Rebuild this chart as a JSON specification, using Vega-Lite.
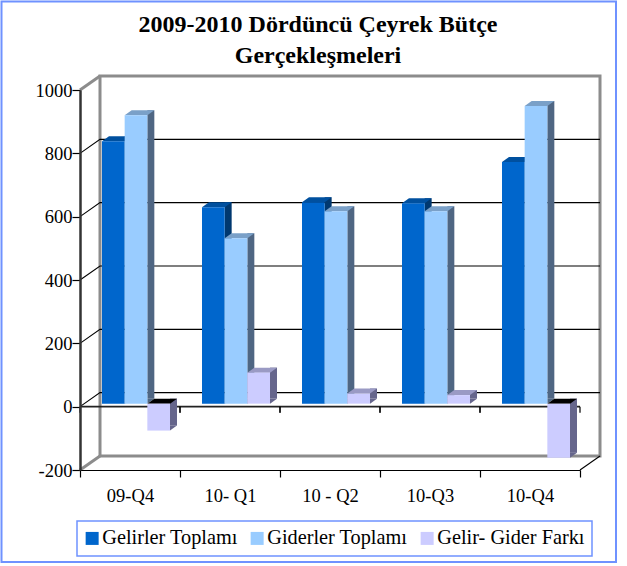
{
"$schema":"https://vega.github.io/schema/vega-lite/v6.json",
"width":500,"height":380,"autosize":"none",
"padding":{"left":80,"top":90,"right":47,"bottom":96},
"background":"white",
"title":{"text":["2009-2010 Dördüncü Çeyrek Bütçe","Gerçekleşmeleri"],"font":"Liberation Serif","fontSize":24,"fontWeight":"bold","color":"black","anchor":"middle","dx":-12,"dy":95,"lineHeight":31,"offset":25},
"config":{"view":{"stroke":null},"font":"Liberation Serif","legend":{"strokeWidth":1.5}},
"layer":[
{
"encoding":{"y":{"field":"g","type":"quantitative","scale":{"domain":[-200,1000],"nice":false,"zero":false},
 "axis":{"title":null,"zindex":1,"values":[-200,0,200,400,600,800,1000],"labelExpr":"''+datum.value","labelFont":"Liberation Serif","labelFontSize":18.5,"labelColor":"black","labelPadding":0,"tickSize":8,"tickColor":"black","tickWidth":1.2,"domainColor":"#333333","domainWidth":2.5,"grid":false}}},
"layer":[
{"data":{"values":[{"g":1000}]},"mark":{"type":"point","shape":"M-328.5,-88.5H286V472H-328.5Z","size":4,"filled":true,"fill":"white","stroke":"#6f92ff","strokeWidth":2,"opacity":1}},
{"data":{"values":[{"g":1000}]},"mark":{"type":"point","shape":"M-230,-14H270V366H-230Z","size":4,"filled":false,"stroke":"#8c8c8c","strokeWidth":3,"opacity":1}},
{"data":{"values":[{"g":0},{"g":200},{"g":400},{"g":600},{"g":800}]},"mark":{"type":"point","shape":"M-250,0L-230,-14H270","size":4,"filled":false,"stroke":"black","strokeWidth":1.1,"opacity":1}},
{"data":{"values":[{"g":-200},{"g":1000}]},"mark":{"type":"point","shape":"M-250,0L-230,-14","size":4,"filled":false,"stroke":"#8c8c8c","strokeWidth":3,"opacity":1}},
{"data":{"values":[{"g":-200}]},"mark":{"type":"point","shape":"M250,0L270,-14","size":4,"filled":false,"stroke":"black","strokeWidth":1.1,"opacity":1}},
{"data":{"values":[{"g":0}]},"mark":{"type":"rule","color":"#222222","strokeWidth":1.6}}
]},
{
"data":{"values":[
{"q":"09-Q4","s":"Gelirler Toplamı","v":829},{"q":"09-Q4","s":"Giderler Toplamı","v":911},{"q":"09-Q4","s":"Gelir- Gider Farkı","v":-85},
{"q":"10- Q1","s":"Gelirler Toplamı","v":620},{"q":"10- Q1","s":"Giderler Toplamı","v":522},{"q":"10- Q1","s":"Gelir- Gider Farkı","v":98},
{"q":"10 - Q2","s":"Gelirler Toplamı","v":636},{"q":"10 - Q2","s":"Giderler Toplamı","v":608},{"q":"10 - Q2","s":"Gelir- Gider Farkı","v":32},
{"q":"10-Q3","s":"Gelirler Toplamı","v":633},{"q":"10-Q3","s":"Giderler Toplamı","v":608},{"q":"10-Q3","s":"Gelir- Gider Farkı","v":27},
{"q":"10-Q4","s":"Gelirler Toplamı","v":763},{"q":"10-Q4","s":"Giderler Toplamı","v":940},{"q":"10-Q4","s":"Gelir- Gider Farkı","v":-171}
]},
"resolve":{"scale":{"color":"independent"}},
"encoding":{
"x":{"field":"q","type":"nominal","scale":{"type":"band","domain":["09-Q4","10- Q1","10 - Q2","10-Q3","10-Q4"],"paddingInner":0,"paddingOuter":0},
 "axis":{"title":null,"zindex":1,"labelAngle":0,"labelFont":"Liberation Serif","labelFontSize":18.5,"labelColor":"black","labelPadding":9,"tickBand":"extent","tickSize":7,"tickColor":"black","domainColor":"black","domainWidth":1.2,"tickWidth":1.2,"grid":false}},
"xOffset":{"field":"s","type":"nominal","scale":{"domain":["Gelirler Toplamı","Giderler Toplamı","Gelir- Gider Farkı"],"paddingInner":0,"paddingOuter":0.706,"range":[6,106]}},
"y":{"field":"v","type":"quantitative","scale":{"domain":[-200,1000],"nice":false,"zero":false},
 "axis":{"title":null,"zindex":1,"values":[-200,0,200,400,600,800,1000],"labelExpr":"''+datum.value","labelFont":"Liberation Serif","labelFontSize":18.5,"labelColor":"black","labelPadding":0,"tickSize":8,"tickColor":"black","tickWidth":1.2,"domainColor":"#333333","domainWidth":2.5,"grid":false}}
},
"layer":[
{"transform":[{"filter":"datum.s==='Gelirler Toplamı'"}],"mark":{"type":"point","shape":"M-50,0L-50,6M50,0L50,6","size":4,"filled":false,"stroke":"black","strokeWidth":1.2,"opacity":1},
 "encoding":{"xOffset":null,"y":{"datum":0}}},
{"transform":[{"filter":"datum.s==='Gelirler Toplamı'"}],"mark":{"type":"bar","width":7,"xOffset":-1.84,"yOffset":-8,"y2Offset":-8,"color":"#00386f"},
 "encoding":{"xOffset":null,"y2":{"datum":0}}},
{"transform":[{"filter":"datum.s==='Giderler Toplamı'"}],"mark":{"type":"bar","width":7,"xOffset":20.83,"yOffset":-8,"y2Offset":-8,"color":"#4f6683"},
 "encoding":{"xOffset":null,"y2":{"datum":0}}},
{"transform":[{"filter":"datum.s==='Gelir- Gider Farkı'"}],"mark":{"type":"bar","width":7,"xOffset":43.5,"yOffset":-8,"y2Offset":-8,"color":"#66668c"},
 "encoding":{"xOffset":null,"y2":{"datum":0}}},
{"transform":[{"filter":"datum.v>=0"}],"mark":{"type":"point","shape":"M11.33,0L18.33,-5L11.33,-5Z","size":4,"filled":true,"opacity":1,"yOffset":-3},
 "encoding":{"y":{"datum":0},"color":{"field":"s","type":"nominal","legend":null,"scale":{"domain":["Gelirler Toplamı","Giderler Toplamı","Gelir- Gider Farkı"],"range":["#00386f","#4f6683","#66668c"]}}}},
{"transform":[{"filter":"datum.v<0"}],"mark":{"type":"point","shape":"M11.33,0L18.33,-5L11.33,-5Z","size":4,"filled":true,"opacity":1,"yOffset":-3,"color":"#66668c"}},
{"transform":[{"filter":"datum.v>=0"}],"mark":{"type":"point","shape":"M-11.33,0L-4.33,-5L18.33,-5L11.33,0Z","size":4,"filled":true,"opacity":1,"yOffset":-3},
 "encoding":{"color":{"field":"s","type":"nominal","legend":null,"scale":{"domain":["Gelirler Toplamı","Giderler Toplamı","Gelir- Gider Farkı"],"range":["#00509f","#7aa0c8","#9a9ac4"]}}}},
{"transform":[{"filter":"datum.v<0"}],"mark":{"type":"point","shape":"M-11.33,0L-4.33,-5L18.33,-5L11.33,0Z","size":4,"filled":true,"opacity":1,"yOffset":-3,"color":"black"},
 "encoding":{"y":{"datum":0}}},
{"mark":{"type":"bar","yOffset":-3,"y2Offset":-3},
 "encoding":{"y2":{"datum":0},"color":{"field":"s","type":"nominal","title":null,"scale":{"domain":["Gelirler Toplamı","Giderler Toplamı","Gelir- Gider Farkı"],"range":["#0066cc","#99ccff","#ccccff"]},
 "legend":{"orient":"none","legendX":-3,"legendY":431,"direction":"horizontal","columns":3,"symbolType":"square","symbolSize":169,"symbolStrokeWidth":0,"symbolOffset":-2,"labelFont":"Liberation Serif","labelFontSize":20.3,"labelColor":"black","labelLimit":300,"fillColor":"white","strokeColor":"#6f92ff","padding":7,"columnPadding":11,"labelOffset":0}}}}
]}
]
}
